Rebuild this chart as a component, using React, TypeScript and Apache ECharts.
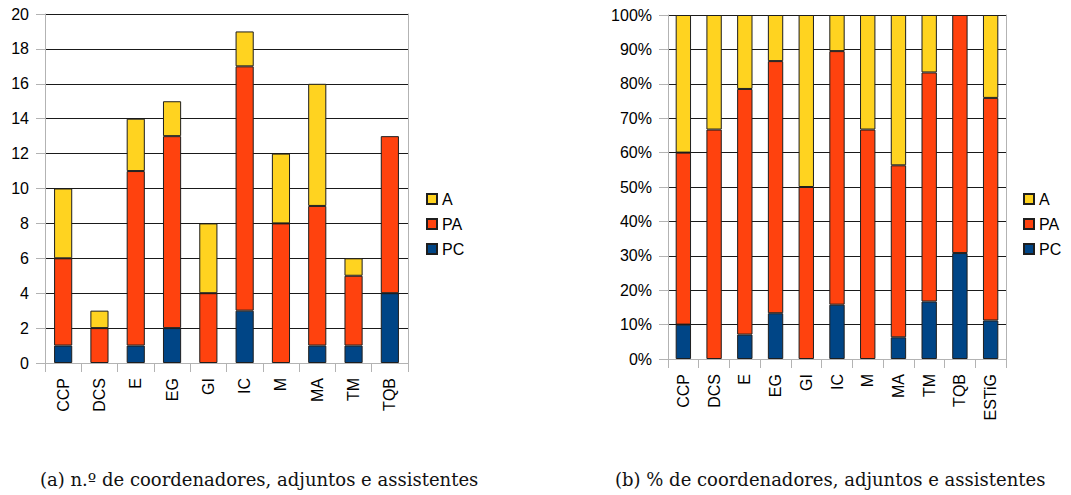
import React, { useEffect, useRef } from "react";
import * as echarts from "echarts";

const countCategories = ["CCP", "DCS", "E", "EG", "GI", "IC", "M", "MA", "TM", "TQB"];
const countPC = [1, 0, 1, 2, 0, 3, 0, 1, 1, 4];
const countPA = [5, 2, 10, 11, 4, 14, 8, 8, 4, 9];
const countA = [4, 1, 3, 2, 4, 2, 4, 7, 1, 0];

const pctCategories = ["CCP", "DCS", "E", "EG", "GI", "IC", "M", "MA", "TM", "TQB", "ESTiG"];
const pctPC = [10, 0, 7.1, 13.3, 0, 15.8, 0, 6.3, 16.7, 30.8, 11.2];
const pctPA = [50, 66.7, 71.4, 73.3, 50, 73.7, 66.7, 50, 66.6, 69.2, 64.7];
const pctA = [40, 33.3, 21.5, 13.4, 50, 10.5, 33.3, 43.7, 16.7, 0, 24.1];

const countTicks = { min: 0, max: 20, interval: 2 };
const pctTicks = { min: 0, max: 100, interval: 10 };

const legendNames = ["A", "PA", "PC"];
const captionA = "(a) n.º de coordenadores, adjuntos e assistentes";
const captionB = "(b) % de coordenadores, adjuntos e assistentes";

const COLORS: Record<string, string> = { A: "#FFD320", PA: "#FF420E", PC: "#004586" };
const SANS = "'Liberation Sans', Arial, sans-serif";
const SERIF = "'DejaVu Serif', serif";

export default function App() {
  const ref = useRef<HTMLDivElement>(null);
  useEffect(() => {
    if (!ref.current) return;
    const chart = echarts.init(ref.current, null, { renderer: "svg" });
    const nz = (arr: number[]) => arr.map((v) => (v === 0 ? null : v));
    const mkSeries = (name: string, data: number[], idx: number) => ({
      name,
      type: "bar",
      stack: "s" + idx,
      xAxisIndex: idx,
      yAxisIndex: idx,
      barWidth: "50%",
      data: nz(data),
      itemStyle: { color: COLORS[name], borderColor: "#1e1e1e", borderWidth: 1 },
    });
    const xAxis = (cats: string[], gi: number) => ({
      type: "category",
      gridIndex: gi,
      data: cats,
      axisLine: { show: true, lineStyle: { color: "#b3b3b3", width: 1 } },
      axisTick: { show: true, length: 9, alignWithLabel: false, lineStyle: { color: "#b3b3b3" } },
      axisLabel: { rotate: 90, margin: 15, color: "#000", fontSize: 16, fontFamily: SANS, interval: 0 },
      splitLine: { show: false },
    });
    const yAxis = (t: any, gi: number, fmt: string) => ({
      type: "value",
      gridIndex: gi,
      min: t.min,
      max: t.max,
      interval: t.interval,
      axisLine: { show: true, lineStyle: { color: "#b3b3b3", width: 1 } },
      axisTick: { show: true, length: 9, lineStyle: { color: "#b3b3b3" } },
      axisLabel: { margin: 16, color: "#000", fontSize: 16, fontFamily: SANS, formatter: fmt },
      splitLine: { show: true, lineStyle: { color: "#1a1a1a", width: 1 } },
    });
    const rightAxis = (gi: number) => ({
      type: "value",
      gridIndex: gi,
      position: "right",
      axisLine: { show: true, onZero: false, lineStyle: { color: "#b3b3b3", width: 1 } },
      axisTick: { show: false },
      axisLabel: { show: false },
      splitLine: { show: false },
    });
    const legend = (left: number) => ({
      orient: "vertical",
      left,
      top: 186,
      data: legendNames,
      itemWidth: 10,
      itemHeight: 10,
      itemGap: 9,
      icon: "rect",
      textStyle: { fontSize: 16, fontFamily: SANS, color: "#000", padding: [0, 0, 0, 0] },
      selectedMode: false,
    });
    chart.setOption({
      animation: false,
      grid: [
        { left: 45, top: 14, width: 363, height: 349 },
        { left: 668, top: 15, width: 338, height: 344 },
      ],
      xAxis: [xAxis(countCategories, 0), xAxis(pctCategories, 1)],
      yAxis: [
        yAxis(countTicks, 0, "{value}"),
        yAxis(pctTicks, 1, "{value}%"),
        { ...rightAxis(0), min: countTicks.min, max: countTicks.max },
        { ...rightAxis(1), min: pctTicks.min, max: pctTicks.max },
      ],
      legend: [legend(421), legend(1018)],
      series: [
        mkSeries("PC", countPC, 0),
        mkSeries("PA", countPA, 0),
        mkSeries("A", countA, 0),
        mkSeries("PC", pctPC, 1),
        mkSeries("PA", pctPA, 1),
        mkSeries("A", pctA, 1),
      ],
      graphic: [
        { type: "text", left: 40, top: 470, style: { text: captionA, font: "18px " + SERIF, fill: "#111" } },
        { type: "text", left: 615, top: 470, style: { text: captionB, font: "18px " + SERIF, fill: "#111" } },
      ],
    });
    return () => chart.dispose();
  }, []);
  return (
    <div
      ref={ref}
      style={{ position: "absolute", left: 0, top: 0, width: 1071, height: 495, background: "#fff" }}
    />
  );
}
